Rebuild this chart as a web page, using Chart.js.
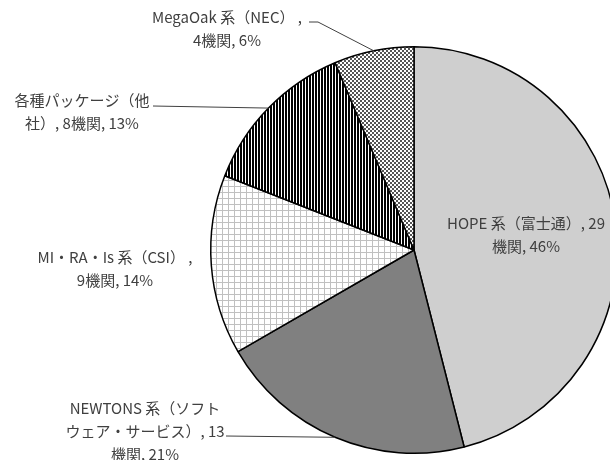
<!DOCTYPE html>
<html lang="ja">
<head>
<meta charset="utf-8">
<title>システム別 導入機関数</title>
<script src="https://cdn.jsdelivr.net/npm/chart.js@4.4.1/dist/chart.umd.min.js"></script>
<style>
  html, body { margin: 0; padding: 0; background: #fff; overflow: hidden; }
  #wrap { width: 620px; height: 460px; }
</style>
</head>
<body>
<div id="wrap"><canvas id="pieChart" width="620" height="460"></canvas></div>
<script>
// Data
const categories = ['HOPE 系（富士通）', 'NEWTONS 系（ソフトウェア・サービス）', 'MI・RA・Is 系（CSI） ', '各種パッケージ（他社）', 'MegaOak 系（NEC） '];
const institutions = [29, 13, 9, 8, 4];
const unitLabel = '機関';

// Label layout: text centre x, first line centre y, line breaks ('|' = split point), leader start points
const labelLayout = [
    { x: 526, y: 223, breaks: ['|機関'], leader: null },
    { x: 145, y: 408, breaks: ['ソフト|ウェア', '|機関'], leader: [[226, 436]] },
    { x: 115, y: 257, breaks: ['） ,|'], leader: null },
    { x: 82,  y: 100, breaks: ['他|社'], leader: [[153, 106]] },
    { x: 227, y: 17,  breaks: ['） ,|'], leader: [[309, 22], [318, 22]] }
];
const lineHeight = 23;
const labelFont = '15px "Noto Sans CJK JP"';
const textColor = '#404040';

const canvas = document.getElementById('pieChart');
const ctx = canvas.getContext('2d');

// Fill patterns
function makePattern(size, paint) {
    const c = document.createElement('canvas');
    c.width = size;
    c.height = size;
    const g = c.getContext('2d');
    g.fillStyle = '#ffffff';
    g.fillRect(0, 0, size, size);
    paint(g);
    return ctx.createPattern(c, 'repeat');
}

const gridPattern = makePattern(6, g => {
    g.fillStyle = '#c0c0c0';
    g.fillRect(0, 0, 6, 1);
    g.fillRect(0, 0, 1, 6);
});
const stripePattern = makePattern(3, g => {
    g.fillStyle = '#000000';
    g.fillRect(0, 0, 2, 3);
});
const checkPattern = makePattern(4, g => {
    g.fillStyle = '#555555';
    g.fillRect(0, 0, 2, 2);
    g.fillRect(2, 2, 2, 2);
});

const sliceFills = ['#cfcfcf', '#808080', gridPattern, stripePattern, checkPattern];

function splitLines(text, breaks) {
    const lines = [];
    let rest = text;
    breaks.forEach(m => {
        const pos = m.indexOf('|');
        const k = rest.indexOf(m.replace('|', '')) + pos;
        lines.push(rest.slice(0, k).trimEnd());
        rest = rest.slice(k).trimStart();
    });
    lines.push(rest);
    return lines;
}

// Draw labels + leader lines
const sliceLabels = {
    id: 'sliceLabels',
    afterDatasetsDraw(chart) {
        const c = chart.ctx;
        const meta = chart.getDatasetMeta(0);
        const total = institutions.reduce((a, b) => a + b, 0);
        c.save();
        c.font = labelFont;
        meta.data.forEach((arc, i) => {
            const lay = labelLayout[i];
            const pct = Math.round(institutions[i] / total * 100);
            const text = `${categories[i]}, ${institutions[i]}${unitLabel}, ${pct}%`;
            const lines = splitLines(text, lay.breaks);

            if (lay.leader) {
                const mid = (arc.startAngle + arc.endAngle) / 2;
                const ex = arc.x + Math.cos(mid) * arc.outerRadius;
                const ey = arc.y + Math.sin(mid) * arc.outerRadius;
                c.strokeStyle = textColor;
                c.lineWidth = 1;
                c.beginPath();
                c.moveTo(lay.leader[0][0], lay.leader[0][1]);
                lay.leader.slice(1).forEach(p => c.lineTo(p[0], p[1]));
                c.lineTo(ex, ey);
                c.stroke();
            }

            c.fillStyle = textColor;
            c.textAlign = 'center';
            c.textBaseline = 'middle';
            lines.forEach((ln, k) => c.fillText(ln, lay.x, lay.y + k * lineHeight));
        });
        c.restore();
    }
};

function drawChart() {
    new Chart(ctx, {
        type: 'pie',
        data: {
            labels: categories,
            datasets: [{
                data: institutions,
                backgroundColor: sliceFills,
                borderColor: '#000000',
                borderWidth: 1.5,
                offset: 0,
                hoverOffset: 0
            }]
        },
        options: {
            responsive: false,
            animation: false,
            events: [],
            layout: { padding: { left: 210, right: 2, top: 46, bottom: 6 } },
            plugins: {
                legend: { display: false },
                tooltip: { enabled: false }
            }
        },
        plugins: [sliceLabels]
    });
}

document.fonts.load(labelFont, '機関').then(drawChart, drawChart);
</script>
</body>
</html>
